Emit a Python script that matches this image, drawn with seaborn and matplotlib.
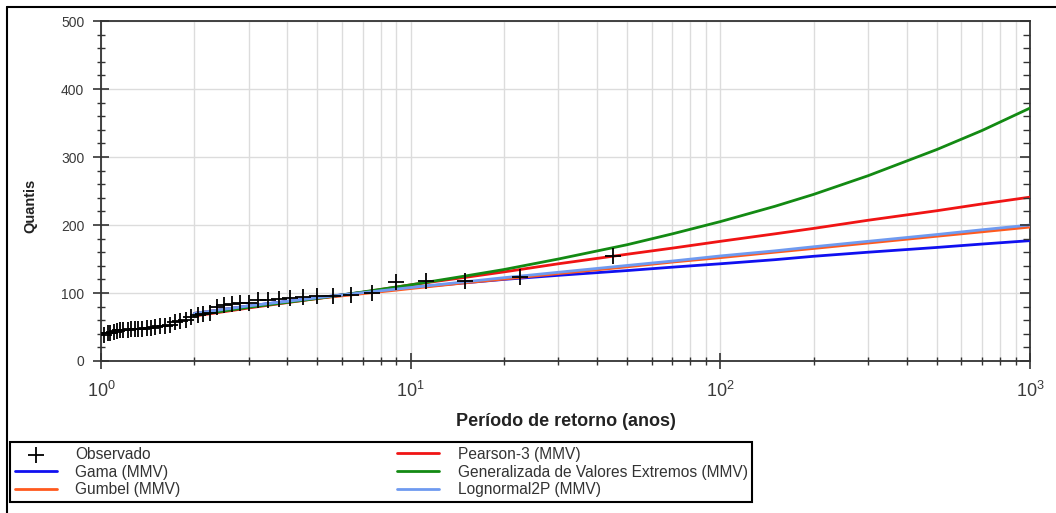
import numpy as np
import pandas as pd
import matplotlib
matplotlib.use("Agg")
import matplotlib.pyplot as plt
import seaborn as sns
from matplotlib.ticker import LogLocator, MultipleLocator, NullFormatter
from matplotlib.lines import Line2D

# Observed annual maxima, ranked, with their empirical return periods (anos)
periodo_obs = [45.0, 22.5, 15.0, 11.25, 9.0, 7.5, 6.43, 5.63, 5.0, 4.5,
               4.09, 3.75, 3.46, 3.21, 3.0, 2.81, 2.65, 2.5, 2.37, 2.25,
               2.14, 2.05, 1.96, 1.88, 1.8, 1.73, 1.67, 1.61, 1.55, 1.5,
               1.45, 1.41, 1.36, 1.32, 1.29, 1.25, 1.22, 1.18, 1.15, 1.13,
               1.10, 1.07, 1.05, 1.02]
quantis_obs = [154, 124, 117, 117, 116, 100, 97, 96, 95, 94,
               92, 91, 89, 89, 86, 85, 84, 83, 80, 71,
               69, 68, 64, 61, 59, 57, 53, 52, 51, 50,
               49, 48, 47, 47, 47, 47, 46, 46, 45, 44,
               42, 41, 41, 38]

# Fitted quantiles at selected return periods
periodo_fit = [2, 3, 5, 7, 10, 15, 20, 30, 50, 70, 100, 150, 200, 300, 500, 700, 1000]
gama = [70, 81, 93, 101, 108, 115, 120, 126, 133, 138, 143, 149, 154, 160, 167, 172, 177]
gumbel = [70, 80.5, 92, 99, 106.5, 115, 120.5, 128.5, 138.5, 145.5, 152, 160, 165.5,
          173.5, 183.5, 190, 197]
pearson3 = [66, 78, 92, 101, 112, 123, 131, 143, 157, 166, 176, 187, 195, 207, 221, 231, 241]
gev = [67, 79, 92, 101.5, 112, 125, 134.5, 150, 171, 187, 205, 227.5, 245, 272.5, 311,
       339, 372]
lognormal2p = [70, 81, 93, 100.5, 108, 116.5, 122.5, 130.5, 140.5, 147, 154.5, 162, 168,
               176, 186, 193, 200]

series = [
    ("Gama (MMV)", gama, "#1010f0"),
    ("Gumbel (MMV)", gumbel, "#ff5a1e"),
    ("Pearson-3 (MMV)", pearson3, "#f01414"),
    ("Generalizada de Valores Extremos (MMV)", gev, "#138a13"),
    ("Lognormal2P (MMV)", lognormal2p, "#6f9af0"),
]

sns.set_theme(style="white")
plt.rcParams["font.family"] = ["Liberation Sans", "DejaVu Sans"]
plt.rcParams["mathtext.fontset"] = "custom"
plt.rcParams["mathtext.rm"] = "Liberation Sans"
plt.rcParams["mathtext.it"] = "Liberation Sans"

fig = plt.figure(figsize=(10.56, 5.13), dpi=100)
ax = fig.add_axes([0.0956, 0.2963, 0.8798, 0.6627])

ax.set_xscale("log")
ax.set_xlim(1, 1000)
ax.set_ylim(0, 500)

# Grid: every decade subdivision vertically, every 100 horizontally
ax.xaxis.set_major_locator(LogLocator(base=10))
ax.xaxis.set_minor_locator(LogLocator(base=10, subs=np.arange(2, 10)))
ax.xaxis.set_minor_formatter(NullFormatter())
ax.yaxis.set_major_locator(MultipleLocator(100))
ax.yaxis.set_minor_locator(MultipleLocator(20))
ax.grid(True, which="both", axis="x", color="#dcdcdc", linewidth=1.0)
ax.grid(True, which="major", axis="y", color="#dcdcdc", linewidth=1.0)
ax.set_axisbelow(True)

for nome, valores, cor in series:
    df = pd.DataFrame({"T": periodo_fit, "Q": valores})
    sns.lineplot(data=df, x="T", y="Q", color=cor, linewidth=2.0, ax=ax,
                 label=nome, zorder=4)

obs = pd.DataFrame({"T": periodo_obs, "Q": quantis_obs})
sns.scatterplot(data=obs, x="T", y="Q", marker="+", s=120, color="black",
                linewidth=1.3, ax=ax, label="Observado", zorder=5)

for s in ax.spines.values():
    s.set_color("#333333")
    s.set_linewidth(1.3)

ax.tick_params(axis="both", which="major", direction="inout", length=12,
               width=1.2, color="#333333", labelcolor="#3a3a3a")
ax.tick_params(axis="both", which="minor", direction="inout", length=6,
               width=1.0, color="#333333")
ax.tick_params(axis="y", which="major", labelsize=10, pad=6)
ax.tick_params(axis="x", which="major", labelsize=13, pad=8)
ax.tick_params(left=True, bottom=True, top=False, right=False, which="both")

# Inward ticks on the right-hand spine
axr = ax.twinx()
axr.set_ylim(ax.get_ylim())
axr.yaxis.set_major_locator(MultipleLocator(100))
axr.yaxis.set_minor_locator(MultipleLocator(20))
axr.tick_params(axis="y", which="major", direction="in", length=7, width=1.2,
                color="#333333", labelright=False)
axr.tick_params(axis="y", which="minor", direction="in", length=5, width=1.0,
                color="#333333")
axr.grid(False)
for s in axr.spines.values():
    s.set_visible(False)

ax.set_xlabel("Período de retorno (anos)", fontsize=13, fontweight="bold",
              color="#222222", labelpad=9)
ax.set_ylabel("Quantis", fontsize=10.5, fontweight="bold", color="#222222")
ax.yaxis.set_label_coords(-0.068, 0.455)

# Legend: observed series first, then the fitted distributions
handles, labels = ax.get_legend_handles_labels()
ax.get_legend().remove()
order = [labels.index("Observado")] + [i for i, l in enumerate(labels) if l != "Observado"]
handles = [handles[i] for i in order]
labels = [labels[i] for i in order]
leg = fig.legend(handles, labels, loc="upper left", ncol=2,
                 bbox_to_anchor=(0.0095, 0.138), borderaxespad=0,
                 frameon=True, fancybox=False, framealpha=1,
                 edgecolor="black", handlelength=2.7, handletextpad=1.2,
                 columnspacing=13.9, labelspacing=0.17, borderpad=0.3,
                 prop={"family": ["Liberation Sans", "DejaVu Sans"], "size": 11.2})
leg.get_frame().set_linewidth(1.5)
for t in leg.get_texts():
    t.set_color("#333333")

# Outer frame lines along the left and top of the figure
fig.add_artist(Line2D([0.0066, 0.0066], [0.0, 0.9864], transform=fig.transFigure,
                      color="black", linewidth=1.5))
fig.add_artist(Line2D([0.0066, 1.0], [0.9864, 0.9864], transform=fig.transFigure,
                      color="black", linewidth=1.5))

fig.savefig("out.png", dpi=100, facecolor="white")
